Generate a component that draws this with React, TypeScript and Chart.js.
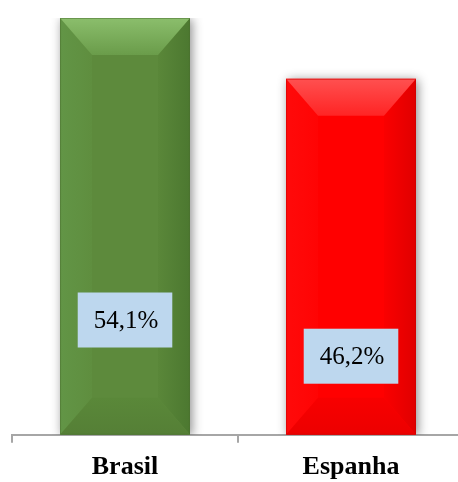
import React, { useEffect, useRef } from "react";
import { Chart, registerables } from "chart.js";

Chart.register(...registerables);

const categories = ["Brasil", "Espanha"];
const values = [54.1, 46.2];
const valueLabels = ["54,1%", "46,2%"];
const labelPositions = [14.9, 10.2];
const faceColors = ["#5D8A3C", "#FF0000"];
const bevelPalettes = [
  { topA: "#8BBE6C", topB: "#6A9C4A", leftA: "#629546", leftB: "#5F8E3F", rightA: "#5A8739", rightB: "#4C7830", bottomA: "#5A8839", bottomB: "#557F36", edge: "#4A7030" },
  { topA: "#FF5050", topB: "#FF2424", leftA: "#FF0A0A", leftB: "#FF0404", rightA: "#FA0000", rightB: "#E00000", bottomA: "#F80000", bottomB: "#EC0000", edge: "#C80000" },
];

const bevelPlugin = {
  id: "bevelBars",
  beforeDatasetDraw(chart: any) {
    const ctx = chart.ctx;
    ctx.save();
    ctx.shadowColor = "rgba(0,0,0,0.45)";
    ctx.shadowBlur = 10;
    ctx.shadowOffsetX = 2;
    ctx.shadowOffsetY = 1;
  },
  afterDatasetDraw(chart: any) {
    const ctx = chart.ctx;
    ctx.restore();
    const meta = chart.getDatasetMeta(0);
    const yScale = chart.scales.y;
    meta.data.forEach((bar: any, i: number) => {
      const p = bevelPalettes[i];
      const w = bar.width;
      const l = bar.x - w / 2;
      const r = bar.x + w / 2;
      const t = bar.y;
      const b = bar.base;
      const sx = 32;
      const sy = 37;
      ctx.save();
      let g = ctx.createLinearGradient(l, 0, l + sx, 0);
      g.addColorStop(0, p.leftA);
      g.addColorStop(1, p.leftB);
      ctx.fillStyle = g;
      ctx.beginPath();
      ctx.moveTo(l, t);
      ctx.lineTo(l + sx, t + sy);
      ctx.lineTo(l + sx, b - sy);
      ctx.lineTo(l, b);
      ctx.closePath();
      ctx.fill();
      g = ctx.createLinearGradient(r - sx, 0, r, 0);
      g.addColorStop(0, p.rightA);
      g.addColorStop(1, p.rightB);
      ctx.fillStyle = g;
      ctx.beginPath();
      ctx.moveTo(r, t);
      ctx.lineTo(r - sx, t + sy);
      ctx.lineTo(r - sx, b - sy);
      ctx.lineTo(r, b);
      ctx.closePath();
      ctx.fill();
      g = ctx.createLinearGradient(0, b - sy, 0, b);
      g.addColorStop(0, p.bottomA);
      g.addColorStop(1, p.bottomB);
      ctx.fillStyle = g;
      ctx.beginPath();
      ctx.moveTo(l, b);
      ctx.lineTo(l + sx, b - sy);
      ctx.lineTo(r - sx, b - sy);
      ctx.lineTo(r, b);
      ctx.closePath();
      ctx.fill();
      g = ctx.createLinearGradient(0, t, 0, t + sy);
      g.addColorStop(0, p.topA);
      g.addColorStop(1, p.topB);
      ctx.fillStyle = g;
      ctx.beginPath();
      ctx.moveTo(l, t);
      ctx.lineTo(r, t);
      ctx.lineTo(r - sx, t + sy);
      ctx.lineTo(l + sx, t + sy);
      ctx.closePath();
      ctx.fill();
      ctx.strokeStyle = p.edge;
      ctx.globalAlpha = 0.5;
      ctx.lineWidth = 1;
      ctx.strokeRect(l + 0.5, t + 0.5, w - 1, b - t - 1);
      ctx.restore();

      const cy = yScale.getPixelForValue(labelPositions[i]);
      ctx.save();
      ctx.font = "25px 'Liberation Serif', 'Times New Roman', serif";
      const tw = ctx.measureText(valueLabels[i]).width;
      const bw = tw + 30;
      const bh = 55;
      ctx.fillStyle = "#BDD7EE";
      ctx.fillRect(bar.x - bw / 2, cy - bh / 2, bw, bh);
      ctx.fillStyle = "#000000";
      ctx.textAlign = "center";
      ctx.textBaseline = "middle";
      ctx.fillText(valueLabels[i], bar.x + 1, cy + 1);
      ctx.restore();
    });
  },
};

export default function App() {
  const ref = useRef<HTMLCanvasElement | null>(null);
  useEffect(() => {
    if (!ref.current) return;
    const chart = new Chart(ref.current, {
      type: "bar",
      data: {
        labels: categories,
        datasets: [
          {
            data: values,
            backgroundColor: faceColors,
            borderWidth: 0,
            categoryPercentage: 1,
            barPercentage: 0.575,
          },
        ],
      },
      options: {
        responsive: false,
        animation: false,
        devicePixelRatio: 1,
        layout: { padding: { top: 18, left: 12, right: 6, bottom: 0 } },
        plugins: { legend: { display: false }, tooltip: { enabled: false } },
        scales: {
          y: { display: false, min: 0, max: 54.1 },
          x: {
            grid: {
              drawOnChartArea: false,
              offset: true,
              tickLength: 8,
              tickColor: "#A6A6A6",
              lineWidth: 2,
            },
            border: { color: "#A6A6A6", width: 2 },
            ticks: {
              color: "#000000",
              padding: 9,
              font: { family: "'Liberation Serif', 'Times New Roman', serif", size: 26, weight: "bold" },
            },
          },
        },
      },
      plugins: [bevelPlugin],
    });
    return () => chart.destroy();
  }, []);
  return (
    <div style={{ position: "fixed", left: 0, top: 0, width: 458, height: 482, overflow: "hidden", background: "#fff" }}>
      <canvas ref={ref} width={470} height={492} style={{ display: "block", width: 470, height: 492 }} />
    </div>
  );
}
